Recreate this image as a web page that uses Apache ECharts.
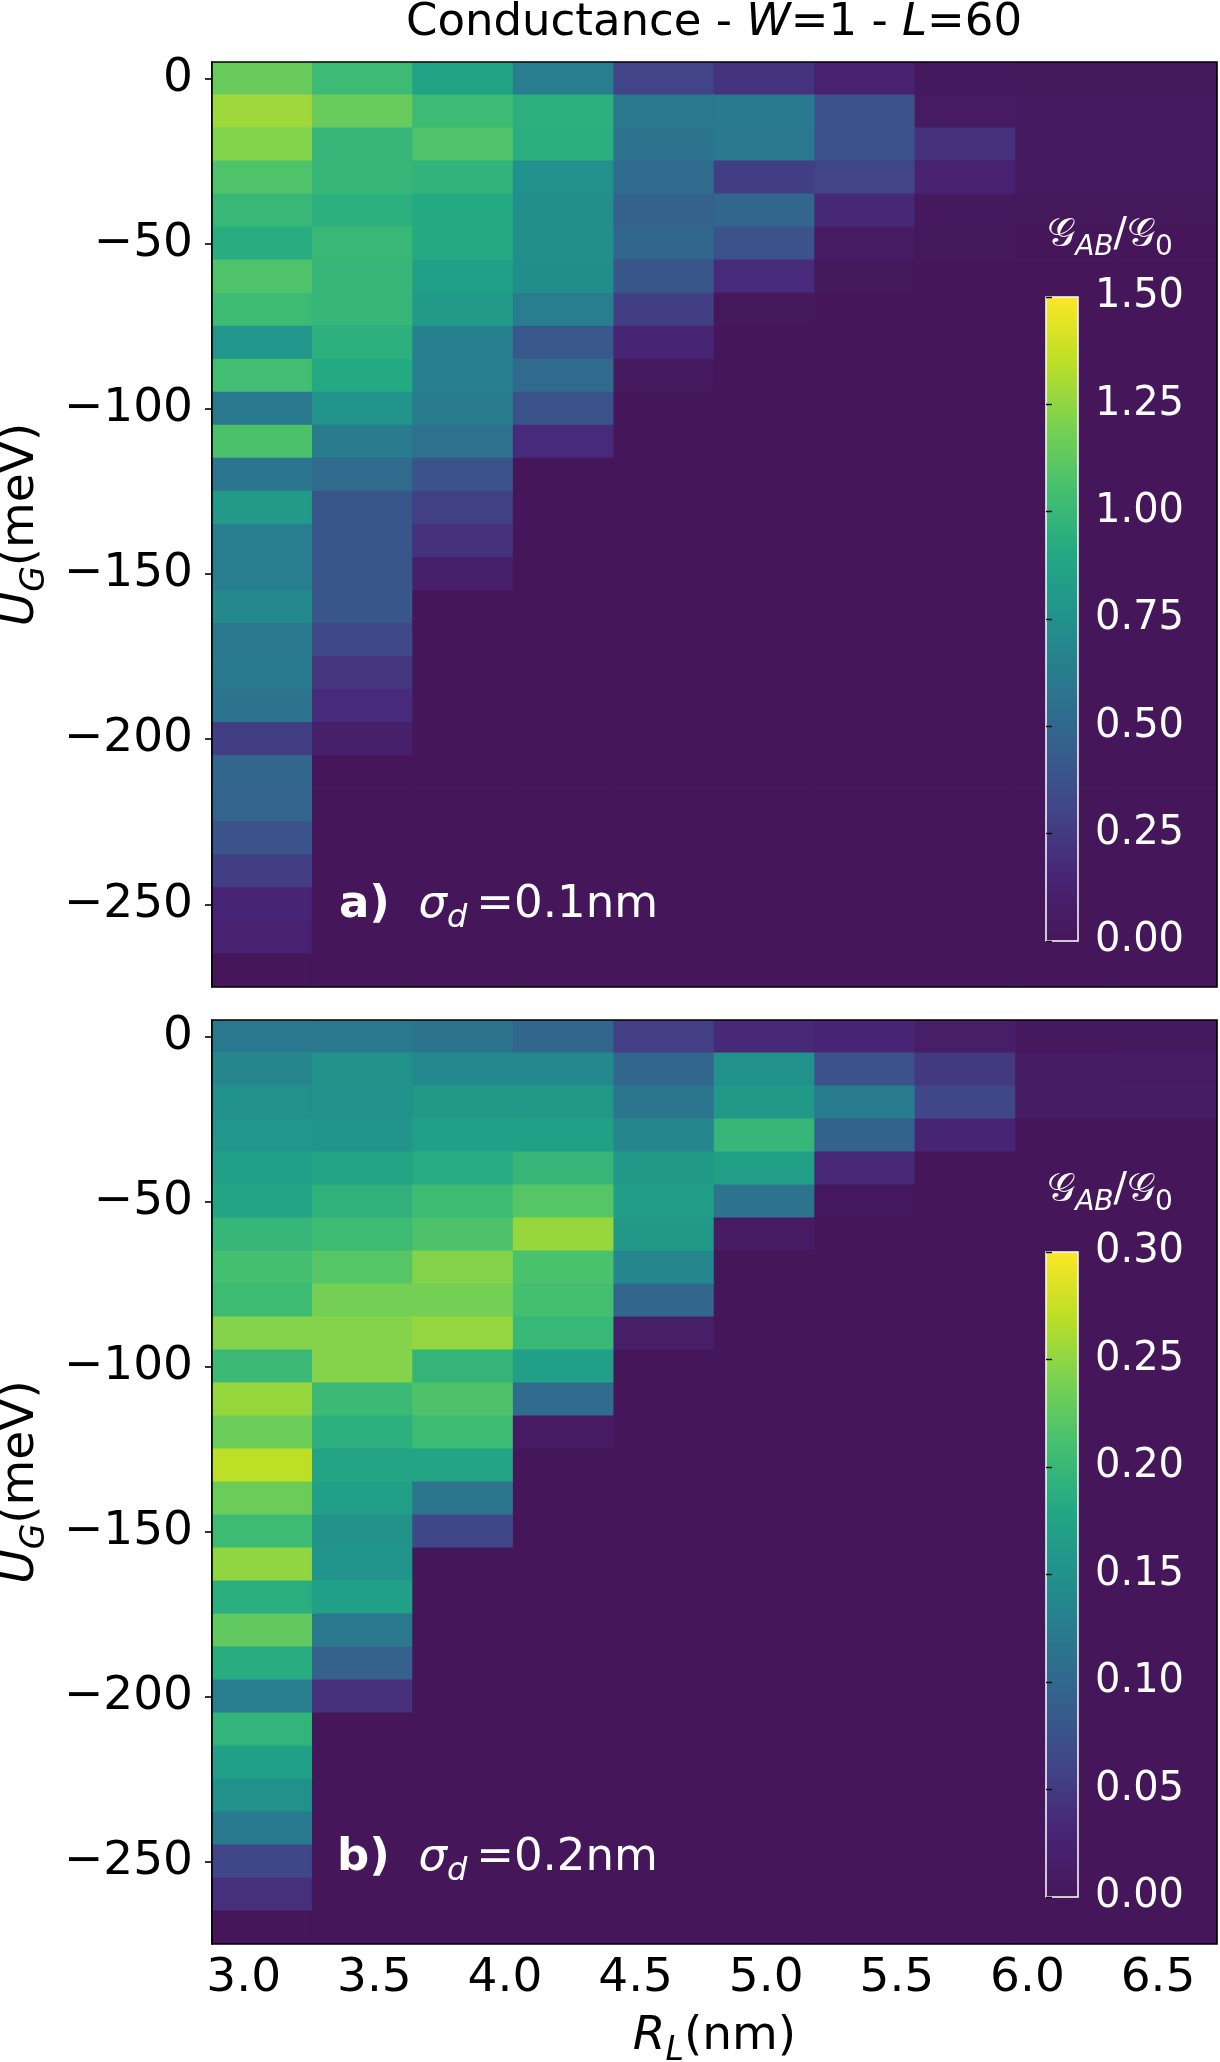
<!DOCTYPE html>
<html>
<head>
<meta charset="utf-8">
<title>Conductance - W=1 - L=60</title>
<script src="https://cdn.jsdelivr.net/npm/echarts@6/dist/echarts.min.js"></script>
<style>
  html, body { margin: 0; padding: 0; background: #fff; }
  #chart { width: 1220px; height: 2062px; }
</style>
</head>
<body>
<div id="chart"></div>
<script>
// column centres R_L (nm) and row values U_G (meV)
var rL = [3.071, 3.456, 3.840, 4.225, 4.610, 4.994, 5.379, 5.763, 6.148, 6.533];
var uG = [0, -10, -20, -30, -40, -50, -60, -70, -80, -90, -100, -110, -120, -130,
  -140, -150, -160, -170, -180, -190, -200, -210, -220, -230, -240, -250, -260, -270];

// G_AB/G_0, panel a) sigma_d = 0.1nm, one row per U_G
var condA = [
  [1.15, 1.02, 0.87, 0.63, 0.30, 0.22, 0.13, 0.02, 0.01, 0.01],
  [1.28, 1.15, 1.02, 0.95, 0.60, 0.61, 0.38, 0.05, 0.03, 0.03],
  [1.22, 0.99, 1.08, 0.94, 0.57, 0.60, 0.37, 0.21, 0.04, 0.04],
  [1.08, 0.99, 0.97, 0.75, 0.53, 0.27, 0.30, 0.13, 0.03, 0.03],
  [1.00, 0.95, 0.91, 0.74, 0.47, 0.49, 0.17, 0.02, 0.01, 0.01],
  [0.93, 1.00, 0.91, 0.74, 0.50, 0.38, 0.05, 0.01, 0, 0],
  [1.08, 0.99, 0.85, 0.73, 0.40, 0.18, 0.01, 0, 0, 0],
  [1.02, 0.99, 0.81, 0.63, 0.27, 0.01, 0, 0, 0, 0],
  [0.78, 0.95, 0.65, 0.41, 0.15, 0, 0, 0, 0, 0],
  [1.04, 0.91, 0.64, 0.52, 0.03, 0, 0, 0, 0, 0],
  [0.60, 0.77, 0.62, 0.39, 0, 0, 0, 0, 0, 0],
  [1.07, 0.62, 0.56, 0.18, 0, 0, 0, 0, 0, 0],
  [0.58, 0.52, 0.39, 0, 0, 0, 0, 0, 0, 0],
  [0.81, 0.40, 0.28, 0, 0, 0, 0, 0, 0, 0],
  [0.63, 0.40, 0.21, 0, 0, 0, 0, 0, 0, 0],
  [0.63, 0.40, 0.10, 0, 0, 0, 0, 0, 0, 0],
  [0.70, 0.40, 0, 0, 0, 0, 0, 0, 0, 0],
  [0.60, 0.32, 0, 0, 0, 0, 0, 0, 0, 0],
  [0.61, 0.23, 0, 0, 0, 0, 0, 0, 0, 0],
  [0.57, 0.18, 0, 0, 0, 0, 0, 0, 0, 0],
  [0.27, 0.10, 0, 0, 0, 0, 0, 0, 0, 0],
  [0.49, 0, 0, 0, 0, 0, 0, 0, 0, 0],
  [0.48, 0, 0, 0, 0, 0, 0, 0, 0, 0],
  [0.39, 0, 0, 0, 0, 0, 0, 0, 0, 0],
  [0.27, 0, 0, 0, 0, 0, 0, 0, 0, 0],
  [0.15, 0, 0, 0, 0, 0, 0, 0, 0, 0],
  [0.13, 0, 0, 0, 0, 0, 0, 0, 0, 0],
  [0, 0, 0, 0, 0, 0, 0, 0, 0, 0]
];

// panel b) sigma_d = 0.2nm
var condB = [
  [0.120, 0.120, 0.115, 0.100, 0.055, 0.035, 0.030, 0.015, 0.005, 0.005],
  [0.138, 0.153, 0.140, 0.140, 0.100, 0.150, 0.075, 0.050, 0.012, 0.010],
  [0.150, 0.150, 0.160, 0.160, 0.117, 0.160, 0.125, 0.063, 0.012, 0.012],
  [0.156, 0.155, 0.170, 0.170, 0.138, 0.198, 0.095, 0.030, 0, 0],
  [0.170, 0.175, 0.185, 0.198, 0.160, 0.170, 0.035, 0, 0, 0],
  [0.175, 0.192, 0.205, 0.220, 0.165, 0.115, 0.003, 0, 0, 0],
  [0.198, 0.205, 0.215, 0.253, 0.160, 0.010, 0, 0, 0, 0],
  [0.210, 0.220, 0.245, 0.213, 0.138, 0, 0, 0, 0, 0],
  [0.205, 0.237, 0.237, 0.210, 0.098, 0, 0, 0, 0, 0],
  [0.245, 0.245, 0.252, 0.200, 0.015, 0, 0, 0, 0, 0],
  [0.203, 0.245, 0.196, 0.170, 0, 0, 0, 0, 0, 0],
  [0.253, 0.203, 0.215, 0.105, 0, 0, 0, 0, 0, 0],
  [0.232, 0.190, 0.204, 0.010, 0, 0, 0, 0, 0, 0],
  [0.270, 0.175, 0.175, 0, 0, 0, 0, 0, 0, 0],
  [0.232, 0.168, 0.118, 0, 0, 0, 0, 0, 0, 0],
  [0.205, 0.152, 0.063, 0, 0, 0, 0, 0, 0, 0],
  [0.250, 0.155, 0, 0, 0, 0, 0, 0, 0, 0],
  [0.187, 0.170, 0, 0, 0, 0, 0, 0, 0, 0],
  [0.226, 0.120, 0, 0, 0, 0, 0, 0, 0, 0],
  [0.186, 0.094, 0, 0, 0, 0, 0, 0, 0, 0],
  [0.127, 0.040, 0, 0, 0, 0, 0, 0, 0, 0],
  [0.195, 0, 0, 0, 0, 0, 0, 0, 0, 0],
  [0.170, 0, 0, 0, 0, 0, 0, 0, 0, 0],
  [0.150, 0, 0, 0, 0, 0, 0, 0, 0, 0],
  [0.122, 0, 0, 0, 0, 0, 0, 0, 0, 0],
  [0.063, 0, 0, 0, 0, 0, 0, 0, 0, 0],
  [0.040, 0, 0, 0, 0, 0, 0, 0, 0, 0],
  [0, 0, 0, 0, 0, 0, 0, 0, 0, 0]
];

var rTicks = [3.0, 3.5, 4.0, 4.5, 5.0, 5.5, 6.0, 6.5];
var uTicks = [0, -50, -100, -150, -200, -250];
var maxA = 1.5, maxB = 0.3;

var viridis = ['#45175a', '#482475', '#414487', '#355f8d', '#2a788e', '#21918c',
  '#22a884', '#44bf70', '#7ad151', '#bddf26', '#fde725'];

var FONT = 'DejaVu Sans';
var dR = rL[1] - rL[0];
var dU = uG[0] - uG[1];

function cells(rows) {
  var out = [];
  rows.forEach(function (row, i) {
    row.forEach(function (v, j) { out.push([rL[j], uG[i], v]); });
  });
  return out;
}

function renderCell(params, api) {
  var x = api.value(0), y = api.value(1);
  var a = api.coord([x - dR / 2, y + dU / 2]);
  var b = api.coord([x + dR / 2, y - dU / 2]);
  var c = api.visual('color');
  return {
    type: 'rect',
    shape: { x: a[0], y: a[1], width: b[0] - a[0], height: b[1] - a[1] },
    style: { fill: c, stroke: c, lineWidth: 1.2 }
  };
}

function minus(v) { return v < 0 ? '\u2212' + Math.abs(v) : String(v); }

var gradient = {
  type: 'linear', x: 0, y: 1, x2: 0, y2: 0,
  colorStops: viridis.map(function (c, i) { return { offset: i / (viridis.length - 1), color: c }; })
};

function txt(size, color, extra) {
  var s = { fontFamily: FONT, fontSize: size, fontWeight: 'normal', color: color };
  for (var k in extra) s[k] = extra[k];
  return s;
}

var nameRich = {
  n: txt(47, '#000', { lineHeight: 62 }),
  i: txt(47, '#000', { lineHeight: 62, fontStyle: 'italic' }),
  s: txt(33, '#000', { lineHeight: 36, fontStyle: 'italic', verticalAlign: 'bottom' })
};

function mainX(gi, withLabels) {
  return {
    type: 'value', gridIndex: gi,
    min: rL[0] - dR / 2, max: rL[rL.length - 1] + dR / 2,
    axisLine: { show: true, lineStyle: { color: '#000', width: 1.6 } },
    axisTick: { show: true, customValues: rTicks, length: 7, lineStyle: { color: '#000', width: 1.6 } },
    axisLabel: {
      show: withLabels, customValues: rTicks, margin: 11,
      fontFamily: FONT, fontSize: 47, color: '#000',
      formatter: function (v) { return v.toFixed(1); }
    },
    splitLine: { show: false },
    name: withLabels ? '{i|R}{s|L}{n|(nm)}' : '',
    nameLocation: 'middle', nameGap: 62,
    nameTextStyle: { rich: nameRich }
  };
}

function mainY(gi) {
  return {
    type: 'value', gridIndex: gi,
    min: uG[uG.length - 1] - dU / 2, max: uG[0] + dU / 2,
    axisLine: { show: true, lineStyle: { color: '#000', width: 1.6 } },
    axisTick: { show: true, customValues: uTicks, length: 7, lineStyle: { color: '#000', width: 1.6 } },
    axisLabel: {
      customValues: uTicks, margin: 19,
      fontFamily: FONT, fontSize: 47, color: '#000', formatter: minus
    },
    splitLine: { show: false },
    name: '{i|U}{s|G}{n|(meV)}',
    nameLocation: 'middle', nameGap: 160,
    nameTextStyle: { rich: nameRich }
  };
}

function barY(gi, max, step) {
  return {
    type: 'value', gridIndex: gi, position: 'right', z: 20,
    min: 0, max: max, interval: step,
    axisLine: { show: false },
    axisTick: { show: true, length: 6, lineStyle: { color: '#000', width: 1.4 } },
    axisLabel: {
      margin: 17, fontFamily: FONT, fontSize: 40, color: '#fff',
      padding: [10, 0, 0, 0],
      formatter: function (v) { return v.toFixed(2); }
    },
    splitLine: { show: false }
  };
}

function barX(gi) {
  return { type: 'value', gridIndex: gi, show: false, min: 0, max: 1 };
}

var panelRich = {
  b: txt(45, '#fff', { fontWeight: 'bold', lineHeight: 60 }),
  n: txt(45, '#fff', { lineHeight: 60 }),
  i: txt(45, '#fff', { fontStyle: 'italic', lineHeight: 60 }),
  s: txt(32, '#fff', { fontStyle: 'italic', lineHeight: 36, verticalAlign: 'bottom' })
};

var cbRich = {
  g: txt(40, '#fff', { lineHeight: 52 }),
  s: txt(28, '#fff', { fontStyle: 'italic', lineHeight: 30, verticalAlign: 'bottom' }),
  z: txt(28, '#fff', { lineHeight: 30, verticalAlign: 'bottom' })
};

var cbText = '{g|\uD835\uDCA2}{s|AB}{g|/\uD835\uDCA2}{z|0}';

function textTitle(text, left, top, align, rich) {
  return {
    text: text, left: left, top: top, padding: 0, z: 20,
    textAlign: align, textVerticalAlign: 'middle',
    textStyle: { fontWeight: 'normal', rich: rich }
  };
}

function plotGrid(top, height) {
  return {
    left: 212, top: top, width: 1005, height: height, show: true, z: 5,
    outerBoundsMode: 'none', containLabel: false,
    backgroundColor: 'transparent', borderColor: '#000', borderWidth: 1.6
  };
}

function barGrid(top, height) {
  return {
    left: 1046, top: top, width: 32, height: height, show: true, z: 8,
    outerBoundsMode: 'none', containLabel: false,
    backgroundColor: gradient, borderColor: '#fff', borderWidth: 1.5
  };
}

var option = {
  animation: false,
  backgroundColor: '#fff',
  title: [
    textTitle('{n|Conductance - }{i|W}{n|=1 - }{i|L}{n|=60}', 714, 23, 'center', {
      n: txt(45, '#000', {}),
      i: txt(45, '#000', { fontStyle: 'italic' })
    }),
    textTitle('{b|a)}{n|  }{i|\u03c3}{s|d}{n|\u2009=0.1nm}', 339, 905, 'left', panelRich),
    textTitle('{b|b)}{n|  }{i|\u03c3}{s|d}{n|\u2009=0.2nm}', 337, 1858, 'left', panelRich),
    textTitle(cbText, 1110, 236, 'center', cbRich),
    textTitle(cbText, 1110, 1191, 'center', cbRich)
  ],
  grid: [plotGrid(62, 925), plotGrid(1020, 924), barGrid(297, 644), barGrid(1252, 645)],
  xAxis: [mainX(0, false), mainX(1, true), barX(2), barX(3)],
  yAxis: [mainY(0), mainY(1), barY(2, maxA, 0.25), barY(3, maxB, 0.05)],
  visualMap: [
    { type: 'continuous', show: false, seriesIndex: 0, dimension: 2, min: 0, max: maxA, inRange: { color: viridis } },
    { type: 'continuous', show: false, seriesIndex: 1, dimension: 2, min: 0, max: maxB, inRange: { color: viridis } }
  ],
  series: [
    { type: 'custom', name: 'sigma 0.1nm', xAxisIndex: 0, yAxisIndex: 0, data: cells(condA), renderItem: renderCell, clip: true },
    { type: 'custom', name: 'sigma 0.2nm', xAxisIndex: 1, yAxisIndex: 1, data: cells(condB), renderItem: renderCell, clip: true }
  ]
};

var chart = echarts.init(document.getElementById('chart'), null, { renderer: 'canvas' });
chart.setOption(option);
</script>
</body>
</html>
